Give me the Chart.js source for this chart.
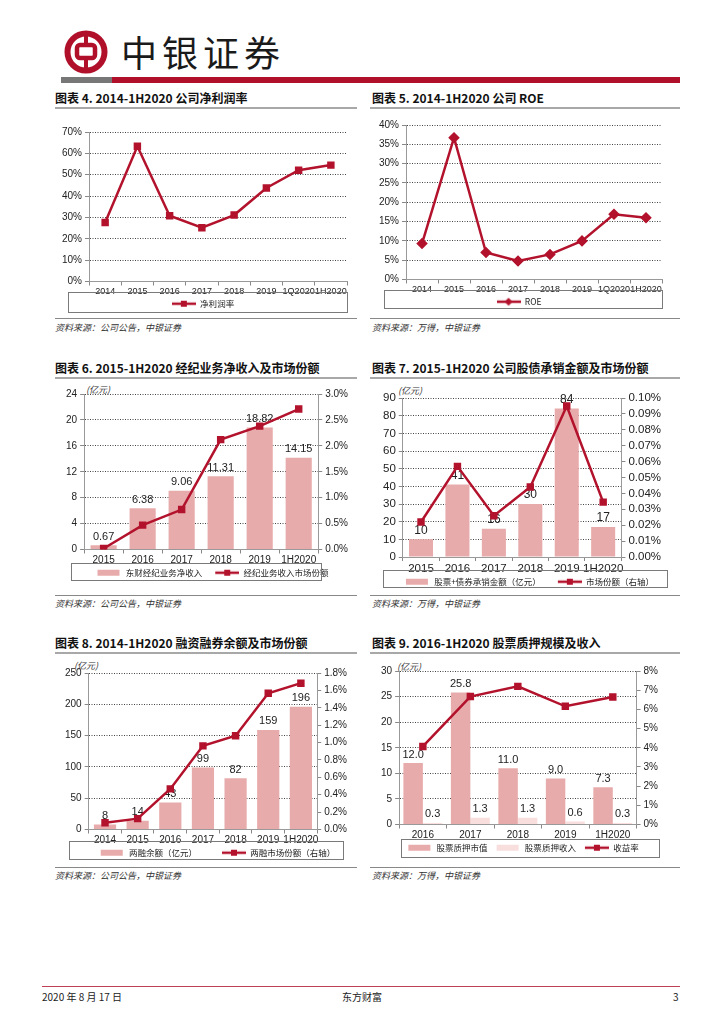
<!DOCTYPE html>
<html>
<head>
<meta charset="utf-8">
<script src="https://cdn.jsdelivr.net/npm/chart.js@4.4.0/dist/chart.umd.min.js"></script>
<style>
body{margin:0;width:724px;height:1024px;position:relative;background:#fff;font-family:"Liberation Sans",Arial,sans-serif;overflow:hidden}
.ttl{position:absolute;font:bold 12px "Noto Sans CJK SC";color:#111;white-space:nowrap;line-height:14px}
.rule{position:absolute;height:2px;background:#a8a8a8}
.srule{position:absolute;height:1px;background:#888}
.src{position:absolute;font:italic 9px "Noto Sans CJK SC";color:#333;white-space:nowrap;line-height:11px}
.unit{position:absolute;font:italic 9px "Noto Sans CJK SC";color:#333;white-space:nowrap;line-height:10px}
canvas{position:absolute}
.foot{position:absolute;font:10px "Noto Sans CJK SC";color:#222;line-height:12px;top:991px}
</style>
</head>
<body>

<svg style="position:absolute;left:64px;top:30px" width="44" height="44" viewBox="0 0 44 44">
  <circle cx="22" cy="22" r="18.5" fill="none" stroke="#b0102a" stroke-width="6"/>
  <rect x="13" y="15" width="18" height="13" rx="3" fill="none" stroke="#b0102a" stroke-width="4.5"/>
  <rect x="20" y="4" width="4" height="11" fill="#b0102a"/>
  <rect x="20" y="28" width="4" height="12" fill="#b0102a"/>
</svg>
<div style="position:absolute;left:121px;top:28px;font:36px 'Noto Sans CJK SC';letter-spacing:5px;color:#1a1a1a;line-height:46px">中银证券</div>
<div style="position:absolute;left:61px;top:77px;width:51px;height:6px;background:#777"></div>
<div style="position:absolute;left:112px;top:77px;width:568px;height:6px;background:#b0102a"></div>

<div class="ttl" style="left:55px;top:91px">图表 4. 2014-1H2020 公司净利润率</div>
<div class="rule" style="left:55px;top:107px;width:302px"></div>
<div class="ttl" style="left:372px;top:91px">图表 5. 2014-1H2020 公司 ROE</div>
<div class="rule" style="left:370px;top:107px;width:310px"></div>
<div class="srule" style="left:55px;top:318px;width:302px"></div>
<div class="src" style="left:55px;top:322px">资料来源：公司公告，中银证券</div>
<div class="srule" style="left:370px;top:318px;width:310px"></div>
<div class="src" style="left:372px;top:322px">资料来源：万得，中银证券</div>

<div class="ttl" style="left:55px;top:361px">图表 6. 2015-1H2020 经纪业务净收入及市场份额</div>
<div class="rule" style="left:55px;top:377px;width:302px"></div>
<div class="ttl" style="left:372px;top:361px">图表 7. 2015-1H2020 公司股债承销金额及市场份额</div>
<div class="rule" style="left:370px;top:377px;width:310px"></div>
<div class="srule" style="left:55px;top:595px;width:302px"></div>
<div class="src" style="left:55px;top:598px">资料来源：公司公告，中银证券</div>
<div class="srule" style="left:370px;top:595px;width:310px"></div>
<div class="src" style="left:372px;top:598px">资料来源：万得，中银证券</div>

<div class="ttl" style="left:55px;top:636px">图表 8. 2014-1H2020 融资融券余额及市场份额</div>
<div class="rule" style="left:55px;top:652px;width:302px"></div>
<div class="ttl" style="left:372px;top:636px">图表 9. 2016-1H2020 股票质押规模及收入</div>
<div class="rule" style="left:370px;top:652px;width:310px"></div>
<div class="srule" style="left:55px;top:867px;width:302px"></div>
<div class="src" style="left:55px;top:870px">资料来源：公司公告，中银证券</div>
<div class="srule" style="left:370px;top:867px;width:310px"></div>
<div class="src" style="left:372px;top:870px">资料来源：万得，中银证券</div>

<div class="unit" style="left:86px;top:385px">(亿元)</div>
<div class="unit" style="left:398px;top:386px">(亿元)</div>
<div class="unit" style="left:74px;top:661px">(亿元)</div>
<div class="unit" style="left:397px;top:662px">(亿元)</div>

<canvas id="c4" width="302" height="200" style="left:55px;top:118px"></canvas>
<canvas id="c5" width="300" height="204" style="left:372px;top:112px"></canvas>
<canvas id="c6" width="310" height="205" style="left:48px;top:382px"></canvas>
<canvas id="c7" width="310" height="212" style="left:368px;top:384px"></canvas>
<canvas id="c8" width="310" height="207" style="left:48px;top:660px"></canvas>
<canvas id="c9" width="310" height="203" style="left:368px;top:659px"></canvas>

<div style="position:absolute;left:42px;top:986px;width:638px;height:1px;background:#c0405a"></div>
<div class="foot" style="left:42px">2020 年 8 月 17 日</div>
<div class="foot" style="left:342px">东方财富</div>
<div class="foot" style="left:673px">3</div>

<script>
// 数据
const years4 = ['2014','2015','2016','2017','2018','2019','1Q2020','1H2020']
const netMargin = [27.6, 63.3, 30.8, 25.2, 31.1, 43.8, 52.1, 54.5]
const roe = [9.3, 36.7, 7.0, 4.8, 6.5, 10.0, 16.9, 16.0]

const years6 = ['2015','2016','2017','2018','2019','1H2020']
const brokerIncome = [0.67, 6.38, 9.06, 11.31, 18.82, 14.15]
const brokerShare = [0.02, 0.47, 0.77, 2.12, 2.38, 2.71]

const underwriting = [10, 41, 16, 30, 84, 17]
const uwShare = [0.022, 0.057, 0.026, 0.044, 0.095, 0.0345]

const years8 = ['2014','2015','2016','2017','2018','2019','1H2020']
const marginBal = [8, 14, 43, 99, 82, 159, 196]
const marginShare = [0.078, 0.125, 0.467, 0.962, 1.079, 1.566, 1.683]

const years9 = ['2016','2017','2018','2019','1H2020']
const pledgeValue = [12.0, 25.8, 11.0, 9.0, 7.3]
const pledgeIncome = [0.3, 1.3, 1.3, 0.6, 0.3]
const pledgeYield = [4.07, 6.67, 7.2, 6.16, 6.64]

const RED = '#b3122c'
const PINK = '#e8abab'
const LPINK = '#f9dede'
const NUM = 'Liberation Sans'
const CJK = 'Noto Sans CJK SC'

// 图例小图标, gap = 左侧留白
function icon(kind, color, gap){
    let c = document.createElement('canvas')
    c.width = 24 + gap; c.height = 10
    let x = c.getContext('2d')
    x.translate(gap, 0)
    if (kind === 'bar') {
        x.fillStyle = color
        x.fillRect(0, 2, 22, 6)
    } else {
        x.strokeStyle = color
        x.lineWidth = 2.5
        x.beginPath(); x.moveTo(0, 5); x.lineTo(24, 5); x.stroke()
        x.fillStyle = color
        if (kind === 'diamond') {
            x.beginPath(); x.moveTo(12, 1); x.lineTo(16, 5); x.lineTo(12, 9); x.lineTo(8, 5); x.closePath(); x.fill()
        } else {
            x.fillRect(9, 2, 6, 6)
        }
    }
    return c
}

function genLabels(chart){
    let items = Chart.defaults.plugins.legend.labels.generateLabels(chart)
    items.forEach(it => {
        it.pointStyle = chart.data.datasets[it.datasetIndex].icon
    })
    return items.sort((a, b) => a.datasetIndex - b.datasetIndex)
}

// 图例外框
const legendFrame = {
    id: 'legendFrame',
    afterDraw(chart, args, opts){
        let L = chart.legend, a = chart.chartArea, ctx = chart.ctx
        let hb = L.legendHitBoxes[0]
        let cy = hb.top + hb.height / 2 + (opts.dy || 0)
        let x0 = Math.round(a.left + opts.l) + 0.5
        let x1 = Math.round(a.right + opts.r) + 0.5
        let y0 = Math.round(cy - opts.h / 2) + 0.5
        ctx.save()
        ctx.strokeStyle = '#7a7a7a'
        ctx.lineWidth = 1
        ctx.strokeRect(x0, y0, x1 - x0, Math.round(opts.h))
        ctx.restore()
    }
}

// 柱子上的数值
const barLabels = {
    id: 'barLabels',
    afterDatasetDraw(chart, args){
        let ds = chart.data.datasets[args.index]
        if (ds.digits === undefined) return
        let ctx = chart.ctx
        ctx.save()
        ctx.font = (ds.labelSize || 11) + 'px "' + NUM + '"'
        ctx.fillStyle = '#222'
        ctx.textAlign = 'center'
        ctx.textBaseline = 'bottom'
        args.meta.data.forEach((el, j) => {
            ctx.fillText(ds.data[j].toFixed(ds.digits), el.x, el.y - 3)
        })
        ctx.restore()
    }
}

function yAxis(pos, min, max, step, fmt, onArea, size){
    return {
        position: pos, min: min, max: max,
        ticks: {stepSize: step, callback: fmt, color: '#222', padding: 3, autoSkip: false, font: {size: size || 10, family: NUM}},
        grid: {drawOnChartArea: onArea, color: '#444', tickLength: 4, tickColor: '#888', lineWidth: 1},
        border: {display: true, color: '#999', dash: onArea ? [1, 1.5] : undefined}
    }
}

function xAxis(size){
    return {
        offset: true,
        ticks: {color: '#222', padding: 2, maxRotation: 0, autoSkip: false,
            font: {size: size || 10, family: NUM, lineHeight: 1}},
        grid: {offset: true, drawOnChartArea: false, tickLength: 4, tickColor: '#888'},
        border: {display: true, color: '#999'}
    }
}

function options(pad, frame, scales){
    return {
        responsive: false,
        animation: false,
        layout: {padding: pad},
        plugins: {
            legend: {
                position: 'bottom',
                labels: {usePointStyle: true, pointStyleWidth: 24 + (frame.gap || 0), boxHeight: 9, padding: 1, color: '#222',
                    font: {size: 8.5, family: CJK}, generateLabels: genLabels}
            },
            tooltip: {enabled: false},
            legendFrame: frame
        },
        scales: scales
    }
}

function lineSet(label, data, axis, style, gap){
    return {
        type: 'line', label: label, data: data, yAxisID: axis, order: -1,
        borderColor: RED, backgroundColor: RED, borderWidth: 2.5, tension: 0,
        pointStyle: style === 'diamond' ? 'rectRot' : 'rect', pointRadius: style === 'diamond' ? 4 : 3.5,
        pointBackgroundColor: RED, pointBorderColor: RED, icon: icon(style || 'square', RED, gap || 0)
    }
}

function barSet(label, data, color, digits, bp, gap){
    return {
        type: 'bar', label: label, data: data, yAxisID: 'y', backgroundColor: color,
        barPercentage: bp, categoryPercentage: 1, digits: digits, icon: icon('bar', color, gap || 0)
    }
}

const pct = v => v + '%'

new Chart(document.getElementById('c4'), {
    type: 'line',
    data: {labels: years4, datasets: [lineSet('净利润率', netMargin, 'y', 'square')]},
    options: options({top: 14, right: 10, left: 4, bottom: 0}, {l: -21, r: 0, h: 20, dy: -2},
        {x: xAxis(9), y: yAxis('left', 0, 70, 10, pct, true)}),
    plugins: [legendFrame]
})

new Chart(document.getElementById('c5'), {
    type: 'line',
    data: {labels: years4, datasets: [lineSet('ROE', roe, 'y', 'diamond')]},
    options: options({top: 13, right: 10, left: 4, bottom: 0}, {l: -22, r: 0, h: 18, dy: -2.5},
        {x: xAxis(9), y: yAxis('left', 0, 40, 5, pct, true)}),
    plugins: [legendFrame]
})

new Chart(document.getElementById('c6'), {
    type: 'bar',
    data: {labels: years6, datasets: [
        barSet('东财经纪业务净收入', brokerIncome, PINK, 2, 0.67, 12),
        lineSet('经纪业务收入市场份额', brokerShare, 'y1', 'square', 12)
    ]},
    options: options({top: 12, right: 7, left: 15, bottom: 0}, {l: -13, r: 3, h: 17, dy: -1.5, gap: 12},
        {x: xAxis(), y: yAxis('left', 0, 24, 4, v => v, true),
         y1: yAxis('right', 0, 3, 0.5, v => v.toFixed(1) + '%', false)}),
    plugins: [legendFrame, barLabels]
})

new Chart(document.getElementById('c7'), {
    type: 'bar',
    data: {labels: years6, datasets: [
        Object.assign(barSet('股票+债券承销金额（亿元）', underwriting, PINK, 0, 0.66, 16), {labelSize: 12}),
        lineSet('市场份额（右轴）', uwShare, 'y1', 'square', 16)
    ]},
    options: options({top: 14, right: 14, left: 12, bottom: 0}, {l: -20, r: 46, h: 17, dy: -3, gap: 16},
        {x: xAxis(11.5), y: yAxis('left', 0, 90, 10, v => v, true, 11.5),
         y1: yAxis('right', 0, 0.1, 0.01, v => v.toFixed(2) + '%', false, 11.5)}),
    plugins: [legendFrame, barLabels]
})

new Chart(document.getElementById('c8'), {
    type: 'bar',
    data: {labels: years8, datasets: [
        barSet('两融余额（亿元）', marginBal, PINK, 0, 0.68, 24),
        lineSet('两融市场份额（右轴）', marginShare, 'y1', 'square', 24)
    ]},
    options: options({top: 13, right: 8, left: 14, bottom: 0}, {l: -20, r: 26, h: 18, dy: -2.5, gap: 24},
        {x: xAxis(), y: yAxis('left', 0, 250, 50, v => v, true),
         y1: yAxis('right', 0, 1.8, 0.2, v => v.toFixed(1) + '%', false)}),
    plugins: [legendFrame, barLabels]
})

new Chart(document.getElementById('c9'), {
    type: 'bar',
    data: {labels: years9, datasets: [
        Object.assign(barSet('股票质押市值', pledgeValue, PINK, 1, 1, 8), {categoryPercentage: 0.82}),
        Object.assign(barSet('股票质押收入', pledgeIncome, LPINK, 1, 1, 8), {categoryPercentage: 0.82}),
        lineSet('收益率', pledgeYield, 'y1', 'square', 8)
    ]},
    options: options({top: 12, right: 17, left: 10, bottom: 0}, {l: 2, r: 22, h: 18, dy: 0.5, gap: 8},
        {x: xAxis(), y: yAxis('left', 0, 30, 5, v => v, true),
         y1: yAxis('right', 0, 8, 1, pct, false)}),
    plugins: [legendFrame, barLabels]
})
</script>
</body>
</html>
